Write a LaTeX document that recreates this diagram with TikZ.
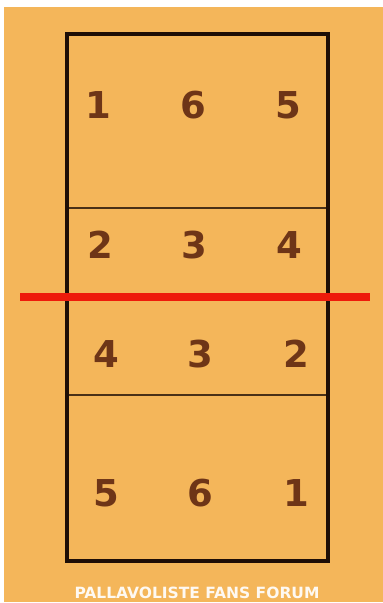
\documentclass[tikz,border=0pt]{standalone}
\usepackage{fontspec}
\setmainfont{DejaVu Sans}
\definecolor{courtbg}{HTML}{F4B65A}
\definecolor{numbrown}{HTML}{6E3517}
\definecolor{linedark}{HTML}{1E0E06}
\definecolor{netred}{HTML}{EE1A0A}
\begin{document}
\begin{tikzpicture}[x=1pt,y=-1pt,
  num/.style={font=\fontsize{37}{37}\selectfont\bfseries, text=numbrown, inner sep=0pt},
  outline/.style={draw=linedark, line width=3.5pt},
  attack/.style={draw=linedark!80!courtbg, line width=1.5pt},
  netline/.style={draw=netred, line width=8pt},
  footer/.style={font=\fontsize{15.5}{16}\selectfont\bfseries, text=white!92!courtbg, inner sep=0pt}]
\useasboundingbox (0,0) rectangle (383,603);
\fill[white] (0,0) rectangle (383,603);
\fill[courtbg] (4,7) rectangle (383,602);
% court
\coordinate (tl) at (67,34);
\coordinate (br) at (328,561);
\coordinate (a1l) at (67,208);
\coordinate (a1r) at (328,208);
\coordinate (a2l) at (67,395);
\coordinate (a2r) at (328,395);
\draw[attack] (a1l) -- (a1r);
\draw[attack] (a2l) -- (a2r);
\draw[outline] (tl) rectangle (br);
\coordinate (nl) at (20,297);
\coordinate (nr) at (370,297);
\draw[netline] (nl) -- (nr);
% numbers
\node[num] (t1) at (98,105) {1};
\node[num] (t6) at (193,105) {6};
\node[num] (t5) at (288,105) {5};
\node[num] (m2) at (100,245) {2};
\node[num] (m3) at (194,245) {3};
\node[num] (m4) at (289,245) {4};
\node[num] (b4) at (106,354) {4};
\node[num] (b3) at (200,354) {3};
\node[num] (b2) at (296,354) {2};
\node[num] (l5) at (106,493) {5};
\node[num] (l6) at (200,493) {6};
\node[num] (l1) at (296,493) {1};
\node[footer] (foot) at (197,593) {PALLAVOLISTE FANS FORUM};
\end{tikzpicture}
\end{document}
